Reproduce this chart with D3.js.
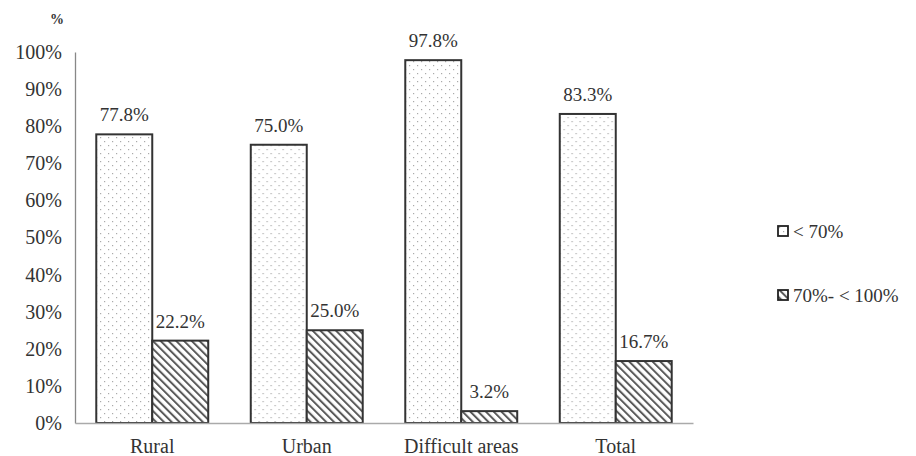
<!DOCTYPE html>
<html>
<head>
<meta charset="utf-8">
<script src="https://cdn.jsdelivr.net/npm/d3@7"></script>
<style>
  body { margin: 0; background: #fff; }
  svg text { font-family: "Liberation Serif", "Times New Roman", "DejaVu Serif", serif !important; }
</style>
</head>
<body>
<div id="chart"></div>
<script>
const categories = ["Rural", "Urban", "Difficult areas", "Total"];
const seriesNames = ["< 70%", "70%- < 100%"];
const below70 = [77.8, 75.0, 97.8, 83.3];
const from70to100 = [22.2, 25.0, 3.2, 16.7];
const yTicks = [0, 10, 20, 30, 40, 50, 60, 70, 80, 90, 100];

const W = 916, H = 456;
const margin = { top: 52, left: 75, right: 223, bottom: 33 };
const FONT = "Liberation Serif";

const svg = d3.select("#chart").append("svg")
  .attr("width", W)
  .attr("height", H)
  .attr("font-family", FONT);

// patterns
const defs = svg.append("defs");
const dots = defs.append("pattern")
  .attr("id", "dots")
  .attr("patternUnits", "userSpaceOnUse")
  .attr("width", 8)
  .attr("height", 8);
dots.append("rect").attr("width", 8).attr("height", 8).attr("fill", "#fff");
dots.append("rect").attr("x", 1).attr("y", 1).attr("width", 1.2).attr("height", 1.2).attr("fill", "#aaa");
dots.append("rect").attr("x", 5).attr("y", 5).attr("width", 1.2).attr("height", 1.2).attr("fill", "#aaa");

const hatch = defs.append("pattern")
  .attr("id", "hatch")
  .attr("patternUnits", "userSpaceOnUse")
  .attr("width", 5.5)
  .attr("height", 5.5)
  .attr("patternTransform", "rotate(-45)");
hatch.append("rect").attr("width", 5.5).attr("height", 5.5).attr("fill", "#fff");
hatch.append("rect").attr("x", 0).attr("y", 0).attr("width", 2).attr("height", 5.5).attr("fill", "#5a5a5a");

const fills = ["url(#dots)", "url(#hatch)"];

const x = d3.scaleBand()
  .domain(categories)
  .range([margin.left, W - margin.right]);

const xInner = d3.scaleBand()
  .domain([0, 1])
  .range([0, x.bandwidth()])
  .paddingOuter(0.38)
  .paddingInner(0);

const y = d3.scaleLinear()
  .domain([0, 100])
  .range([H - margin.bottom, margin.top]);

// y axis
const yAxis = svg.append("g")
  .attr("transform", `translate(${margin.left},0)`)
  .call(d3.axisLeft(y).tickValues(yTicks).tickSize(0).tickPadding(13).tickFormat(d => d + "%"));
yAxis.attr("font-family", FONT);
yAxis.select(".domain").attr("stroke", "#888").attr("stroke-width", 1.3);
yAxis.selectAll("text").attr("font-size", 20).attr("fill", "#333");

svg.append("text")
  .attr("x", 50)
  .attr("y", 24)
  .attr("font-size", 14)
  .attr("font-weight", "bold")
  .attr("fill", "#333")
  .text("%");

// bars
const groups = svg.selectAll("g.cat")
  .data(categories)
  .join("g")
  .attr("class", "cat")
  .attr("transform", d => `translate(${x(d)},0)`);

const seriesData = [below70, from70to100];
groups.each(function (cat, i) {
  const g = d3.select(this);
  seriesData.forEach((vals, s) => {
    const v = vals[i];
    g.append("rect")
      .attr("x", xInner(s))
      .attr("y", y(v))
      .attr("width", xInner.bandwidth())
      .attr("height", y(0) - y(v))
      .attr("fill", fills[s])
      .attr("stroke", "#333")
      .attr("stroke-width", 2);
    g.append("text")
      .attr("x", xInner(s) + xInner.bandwidth() / 2)
      .attr("y", y(v) - 13)
      .attr("text-anchor", "middle")
      .attr("font-size", 19)
      .attr("fill", "#333")
      .text(v.toFixed(1) + "%");
  });
});

// x axis
const xAxis = svg.append("g")
  .attr("transform", `translate(0,${H - margin.bottom})`)
  .call(d3.axisBottom(x).tickSize(0));
xAxis.attr("font-family", FONT);
xAxis.select(".domain").attr("stroke", "#aaa").attr("stroke-width", 1.5);
xAxis.selectAll("text")
  .attr("font-size", 20)
  .attr("fill", "#333")
  .attr("y", 30)
  .attr("dy", 0);

// legend
const legend = svg.append("g")
  .selectAll("g")
  .data(seriesNames)
  .join("g")
  .attr("transform", (d, i) => `translate(778,${226 + i * 64})`);
legend.append("rect")
  .attr("width", 10)
  .attr("height", 10)
  .attr("fill", (d, i) => fills[i])
  .attr("stroke", "#222")
  .attr("stroke-width", 1.8);
legend.append("text")
  .attr("x", 15)
  .attr("y", 12)
  .attr("font-size", 19)
  .attr("fill", "#333")
  .text(d => d);
</script>
</body>
</html>
